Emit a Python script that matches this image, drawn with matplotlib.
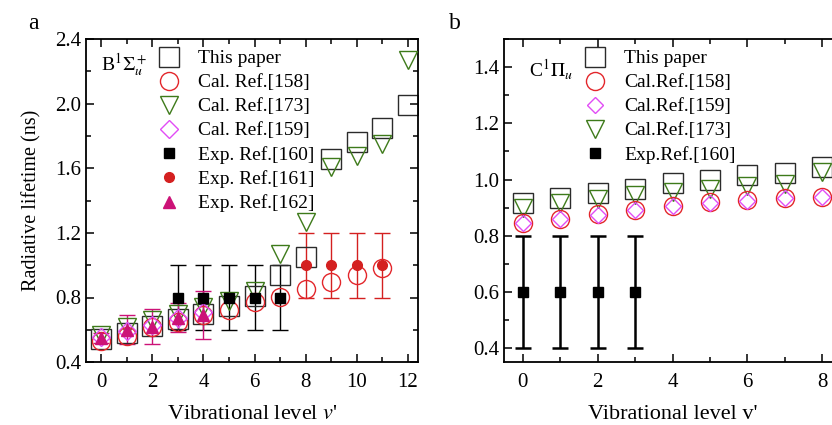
import numpy as np
import matplotlib
matplotlib.use('Agg')
import matplotlib.pyplot as plt
from matplotlib.ticker import MultipleLocator

plt.rcParams['font.family'] = ['Liberation Serif', 'DejaVu Serif']
plt.rcParams['mathtext.fontset'] = 'stix'
plt.rcParams['xtick.direction'] = 'in'
plt.rcParams['ytick.direction'] = 'in'

# ---- panel a : B1Sigma_u+ ----
v_a = np.arange(13)
this_a = [0.54, 0.58, 0.625, 0.665, 0.70, 0.75, 0.81, 0.94, 1.05, 1.66, 1.76, 1.85, 1.99]
v158_a = np.arange(12)
cal158_a = [0.53, 0.56, 0.615, 0.65, 0.69, 0.725, 0.775, 0.805, 0.855, 0.895, 0.94, 0.98]
cal173_a = [0.57, 0.62, 0.66, 0.695, 0.74, 0.78, 0.84, 1.07, 1.27, 1.61, 1.675, 1.75, 2.27]
v159_a = np.arange(5)
cal159_a = [0.555, 0.59, 0.63, 0.67, 0.71]
v160_a = np.arange(3, 8)
exp160_a = [0.8, 0.8, 0.8, 0.8, 0.8]
err160_a = [0.2, 0.2, 0.2, 0.2, 0.2]
v161_a = np.arange(8, 12)
exp161_a = [1.0, 1.0, 1.0, 1.0]
err161_a = [0.2, 0.2, 0.2, 0.2]
v162_a = np.arange(5)
exp162_a = [0.55, 0.60, 0.62, 0.675, 0.69]
err162_a = [0.03, 0.09, 0.11, 0.09, 0.15]

# ---- panel b : C1Pi_u ----
v_b = np.arange(9)
this_b = [0.915, 0.936, 0.953, 0.968, 0.986, 1.0, 1.016, 1.024, 1.045]
cal158_b = [0.847, 0.861, 0.877, 0.893, 0.907, 0.919, 0.927, 0.935, 0.938]
cal159_b = [0.845, 0.86, 0.875, 0.89, 0.905, 0.918, 0.925, 0.933, 0.937]
cal173_b = [0.897, 0.916, 0.929, 0.945, 0.957, 0.968, 0.978, 0.984, 1.027]
v160_b = np.arange(4)
exp160_b = [0.6, 0.6, 0.6, 0.6]
err160_b = [0.2, 0.2, 0.2, 0.2]

RED = '#e3262b'
GREEN = '#3d7a1a'
VIOLET = '#e14cf5'
PINK = '#cc1277'
SQ = '#2b2b2b'

fig = plt.figure(figsize=(8.32, 4.25), dpi=100)
ax1 = fig.add_axes([0.1034, 0.148, 0.399, 0.760])
ax2 = fig.add_axes([0.6058, 0.148, 0.405, 0.760])

def style(ax):
    ax.tick_params(which='both', top=True, right=True, labelsize=15, width=1.1)
    ax.tick_params(which='major', length=6)
    ax.tick_params(which='minor', length=3.5)
    ax.tick_params(axis='x', which='major', pad=8)
    for s in ax.spines.values():
        s.set_linewidth(1.3)

# panel a
ax = ax1
ax.errorbar(v160_a, exp160_a, yerr=err160_a, fmt='none', ecolor='black', elinewidth=1.0, capsize=6, capthick=1.0, zorder=1)
ax.errorbar(v161_a, exp161_a, yerr=err161_a, fmt='none', ecolor='#d42020', elinewidth=1.0, capsize=6, capthick=1.0, zorder=1)
ax.errorbar(v162_a, exp162_a, yerr=err162_a, fmt='none', ecolor=PINK, elinewidth=1.0, capsize=6, capthick=1.0, zorder=1)
ax.plot(v_a, this_a, 's', ms=14.5, mfc='none', mec=SQ, mew=1.0, label='This paper', zorder=2)
ax.plot(v158_a, cal158_a, 'o', ms=13, mfc='none', mec=RED, mew=1.0, label='Cal. Ref.[158]', zorder=4)
ax.plot(v_a, cal173_a, 'v', ms=13, mfc='none', mec=GREEN, mew=1.0, label='Cal. Ref.[173]', zorder=3)
ax.plot(v159_a, cal159_a, 'D', ms=9, mfc='none', mec=VIOLET, mew=1.0, label='Cal. Ref.[159]', zorder=5)
ax.plot(v160_a, exp160_a, 's', ms=6.5, color='black', label='Exp. Ref.[160]', zorder=6)
ax.plot(v161_a, exp161_a, 'o', ms=7, color='#d42020', label='Exp. Ref.[161]', zorder=6)
ax.plot(v162_a, exp162_a, '^', ms=8, color=PINK, label='Exp. Ref.[162]', zorder=7)
ax.set_xlim(-0.6, 12.4)
ax.set_ylim(0.4, 2.4)
ax.xaxis.set_major_locator(MultipleLocator(2))
ax.xaxis.set_minor_locator(MultipleLocator(1))
ax.yaxis.set_major_locator(MultipleLocator(0.4))
ax.yaxis.set_minor_locator(MultipleLocator(0.2))
ax.yaxis.set_major_formatter(plt.FormatStrFormatter('%.1f'))
style(ax)
ax.set_xlabel("Vibrational level $v$'", fontsize=16, labelpad=9)
ax.set_ylabel('Radiative lifetime (ns)', fontsize=14.5, labelpad=10)
ax.text(0.0, 2.24, r'B$^1\Sigma_u^+$', fontsize=14, ha='left', va='center')
ax.legend(loc='upper left', bbox_to_anchor=(0.16, 1.0), frameon=False, numpoints=1,
          fontsize=14, labelspacing=0.33, handletextpad=0.5, borderaxespad=0.15)

# panel b
ax = ax2
ax.errorbar(v160_b, exp160_b, yerr=err160_b, fmt='none', ecolor='black', elinewidth=1.8, capsize=6, capthick=1.8, zorder=1)
ax.plot(v_b, this_b, 's', ms=14.5, mfc='none', mec=SQ, mew=1.0, label='This paper', zorder=2)
ax.plot(v_b, cal158_b, 'o', ms=13, mfc='none', mec=RED, mew=1.0, label='Cal.Ref.[158]', zorder=4)
ax.plot(v_b, cal159_b, 'D', ms=8, mfc='none', mec=VIOLET, mew=1.0, label='Cal.Ref.[159]', zorder=5)
ax.plot(v_b, cal173_b, 'v', ms=13, mfc='none', mec=GREEN, mew=1.0, label='Cal.Ref.[173]', zorder=3)
ax.plot(v160_b, exp160_b, 's', ms=7, color='black', label='Exp.Ref.[160]', zorder=6)
ax.set_xlim(-0.5, 8.5)
ax.set_ylim(0.35, 1.5)
ax.xaxis.set_major_locator(MultipleLocator(2))
ax.xaxis.set_minor_locator(MultipleLocator(1))
ax.yaxis.set_major_locator(MultipleLocator(0.2))
ax.yaxis.set_minor_locator(MultipleLocator(0.1))
ax.yaxis.set_major_formatter(plt.FormatStrFormatter('%.1f'))
style(ax)
ax.set_xlabel("Vibrational level v'", fontsize=16, labelpad=9)
ax.text(0.18, 1.39, r'C$^1\Pi_u$', fontsize=14, ha='left', va='center')
ax.legend(loc='upper left', bbox_to_anchor=(0.18, 1.0), frameon=False, numpoints=1,
          fontsize=14, labelspacing=0.33, handletextpad=0.5, borderaxespad=0.15)

fig.text(0.034, 0.945, 'a', fontsize=17, va='center')
fig.text(0.54, 0.945, 'b', fontsize=17, va='center')

fig.savefig('out.png', dpi=100)
